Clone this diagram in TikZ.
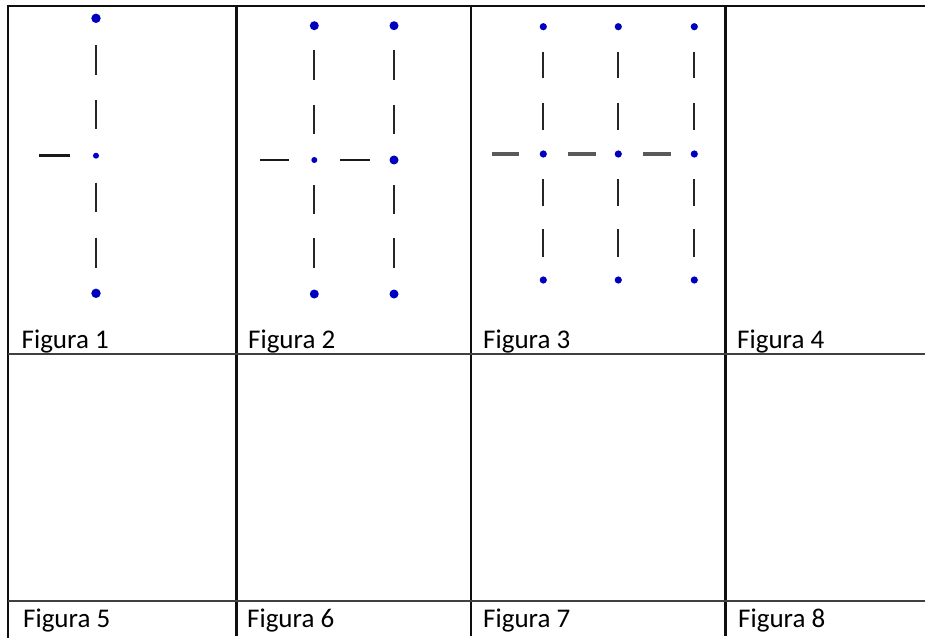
\documentclass[tikz,border=0pt]{standalone}
\usepackage{fontspec}
\setmainfont{Carlito}
\definecolor{dotblue}{RGB}{0,0,190}
\definecolor{gridc}{RGB}{15,15,15}
\tikzset{
  gridline/.style={draw=gridc, line width=2.2pt},
  midline/.style={draw=black!75, line width=2.8pt},
  vdashseg/.style={draw=black!85, line width=2.3pt},
  hdashseg/.style={draw=black!90, line width=2.4pt},
  hdashgray/.style={draw=black!65, line width=3.2pt},
  bigdot/.style={fill=dotblue},
  lbl/.style={anchor=base west, inner sep=0pt, font=\fontsize{27}{31}\selectfont, text=black}
}
\begin{document}
\begin{tikzpicture}[x=1pt,y=-1pt]
\useasboundingbox (0,0) rectangle (925,639);
\fill[white] (0,0) rectangle (925,639);
% grid
\draw[gridline] (8.3,6) -- (925,6);
\draw[gridline] (8.3,5) -- (8.3,638);
\foreach \x in {236.5,471.3,725.5} \draw[gridline] (\x,6) -- (\x,636);
\draw[midline] (8.3,354) -- (925,354);
\draw[midline] (8.3,601) -- (925,601);
% labels
\node[lbl] (f1) at (21.5,348) {Figura 1};
\node[lbl] (f2) at (248,348) {Figura 2};
\node[lbl] (f3) at (483,348) {Figura 3};
\node[lbl] (f4) at (737,348) {Figura 4};
\node[lbl] (f5) at (23,627) {Figura 5};
\node[lbl] (f6) at (247,627) {Figura 6};
\node[lbl] (f7) at (483,627) {Figura 7};
\node[lbl] (f8) at (738,627) {Figura 8};
% Figura 1
\foreach \a/\b in {45/75,100/129.3,182.7/212,237.7/267.7}
  \draw[vdashseg] (96,\a) -- (96,\b);
\draw[hdashseg] (39.3,155.7) -- (70,155.7);
\fill[bigdot] (96,18.3) circle (4.7);
\fill[bigdot] (96,155.7) circle (3);
\fill[bigdot] (96,293.3) circle (4.7);
% Figura 2
\foreach \x in {314.3,394}
  \foreach \a/\b in {50/80,105/134.3,185/214.3,238.3/268.3}
    \draw[vdashseg] (\x,\a) -- (\x,\b);
\draw[hdashseg] (260,160) -- (289.3,160);
\draw[hdashseg] (340,160) -- (370,160);
\foreach \x in {314.3,394} {
  \fill[bigdot] (\x,25.7) circle (4.5);
  \fill[bigdot] (\x,294) circle (4.5);
}
\fill[bigdot] (314.3,160) circle (3);
\fill[bigdot] (394,160) circle (4.5);
% Figura 3
\foreach \x in {543.3,618.3,694.3} {
  \foreach \a/\b in {51.7/78.3,103.3/130,179.3/206,229.3/256.7}
    \draw[vdashseg] (\x,\a) -- (\x,\b);
}
\draw[hdashgray] (491.7,154) -- (519,154);
\draw[hdashgray] (567.7,154) -- (595.7,154);
\draw[hdashgray] (643.3,154) -- (671,154);
\foreach \x in {543.3,618.3,694.3} {
  \fill[bigdot] (\x,26.7) circle (3.6);
  \fill[bigdot] (\x,154) circle (3.6);
  \fill[bigdot] (\x,280) circle (3.6);
}
\end{tikzpicture}
\end{document}
